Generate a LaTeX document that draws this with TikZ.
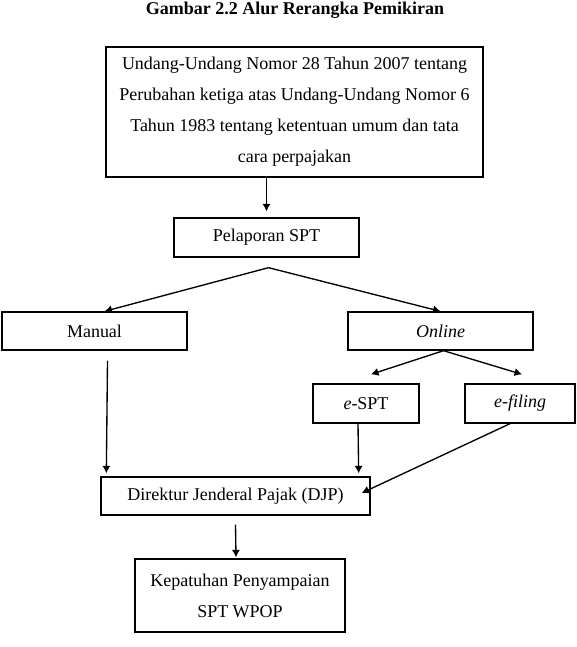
\documentclass[tikz,border=0pt]{standalone}
\usepackage{fontspec}
\setmainfont{Liberation Serif}
\usetikzlibrary{calc, arrows.meta}

\newlength{\satuan}
\setlength{\satuan}{0.667pt}

\tikzset{
  kotak/.style={draw, line width=0.9pt, align=center, inner sep=0pt,
    font=\fontsize{12}{20.7}\selectfont},
  panah/.style={-{Latex[length=5pt, width=5.5pt]}, line width=0.9pt}
}

\begin{document}
\begin{tikzpicture}[x=0.667pt, y=-0.667pt]
        \useasboundingbox (0,0) rectangle (576,647);
        \node[font=\bfseries\fontsize{12}{14}\selectfont] (judul) at (295,10) {Gambar 2.2 Alur Rerangka Pemikiran};

        % Boxes
        \node[kotak, minimum width=377\satuan, minimum height=130\satuan] (uu) at (294.5,112)
            {Undang-Undang Nomor 28 Tahun 2007 tentang\\ Perubahan ketiga atas Undang-Undang Nomor 6\\ Tahun 1983 tentang ketentuan umum dan tata\\ cara perpajakan};
        \node[kotak, minimum width=185\satuan, minimum height=39\satuan] (lapor) at (266.5,237.5) {Pelaporan SPT};
        \node[kotak, minimum width=185\satuan, minimum height=38\satuan] (manual) at (94.5,331) {Manual};
        \node[kotak, minimum width=185\satuan, minimum height=38\satuan] (online) at (440.5,331) {\textit{Online}};
        \node[kotak, minimum width=106\satuan, minimum height=39\satuan] (espt) at (366,403.5) {\textit{e}-SPT};
        \node[kotak, minimum width=110\satuan, minimum height=39\satuan] (efiling) at (520,403.5) {\textit{e-filing}};
        \node[kotak, minimum width=269\satuan, minimum height=38\satuan] (djp) at (235.5,496) {Direktur Jenderal Pajak (DJP)};
        \node[kotak, minimum width=210\satuan, minimum height=73\satuan] (patuh) at (240,595.5) {Kepatuhan Penyampaian\\ SPT WPOP};

        % Arrows
        \coordinate (cabang) at ($(lapor.south)+(2,10)$);
        \draw[panah] (uu.south -| lapor.north) -- ($(lapor.north)+(0,-6)$);
        \draw[panah] (cabang) -- ($(manual.north)+(10,0)$);
        \draw[panah] (cabang) -- (online.north);
        \draw[panah] ($(online.south)+(3,0)$) -- ($(espt.north)+(5,-9)$);
        \draw[panah] ($(online.south)+(3,0)$) -- ($(efiling.north)+(2,-9)$);
        \draw[panah] ($(manual.south)+(13,10)$) -- ($(djp.north west)+(6,-3)$);
        \draw[panah] ($(espt.south)+(-8,0)$) -- ($(djp.north east)+(-12,-3)$);
        \draw[panah] ($(efiling.south)+(-10,0)$) -- ($(djp.east)+(-9,-3)$);
        \draw[panah] ($(djp.south)+(0,9)$) -- ($(patuh.north)+(-4,-1)$);
    \end{tikzpicture}
\end{document}
